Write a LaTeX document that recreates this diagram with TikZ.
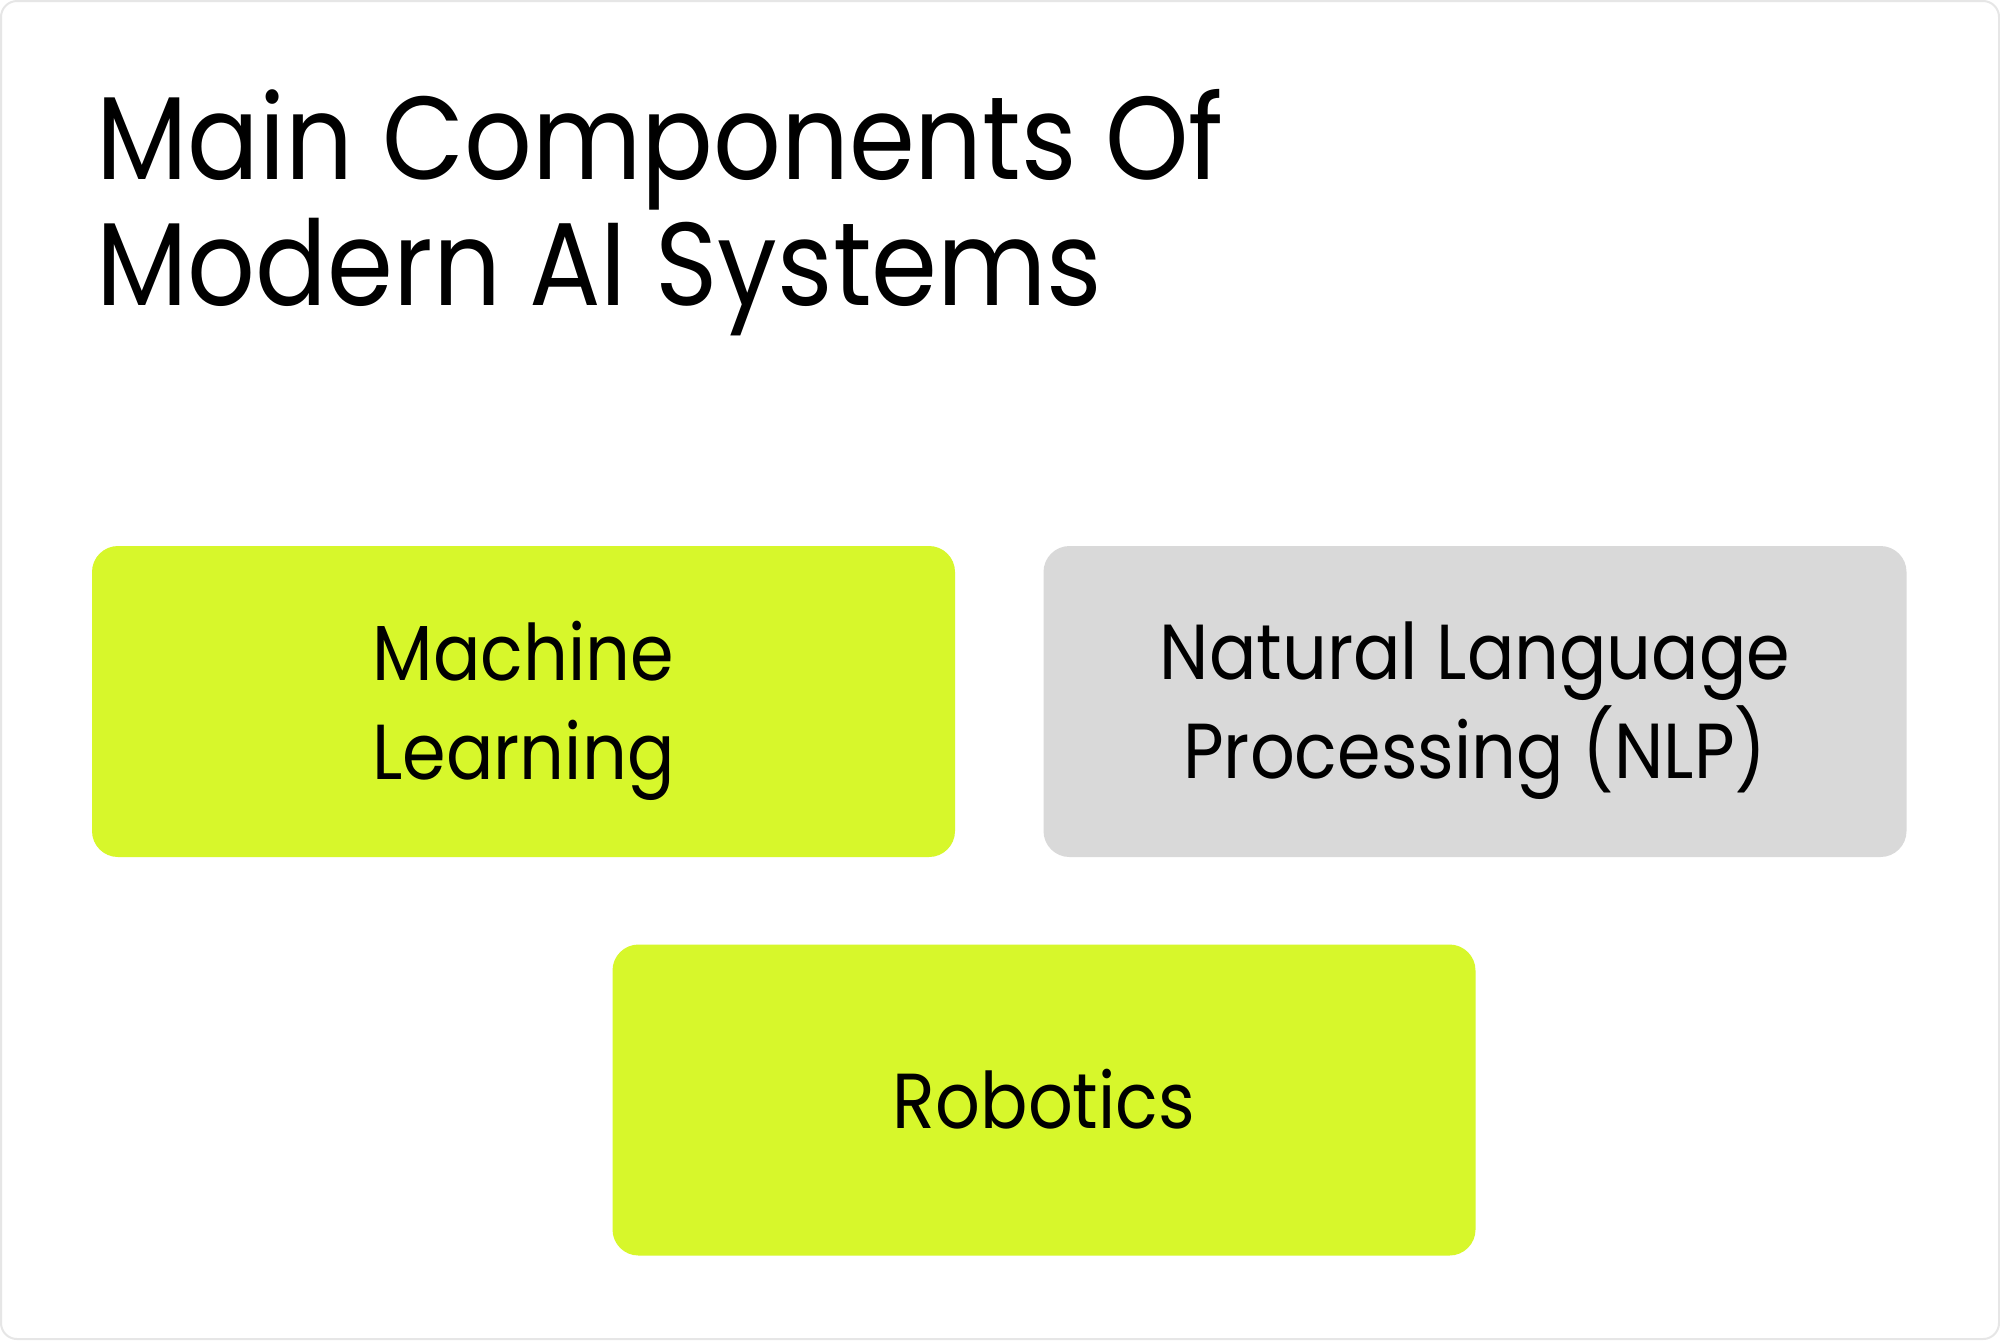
\documentclass[tikz,border=0pt]{standalone}
\usepackage{fontspec}
\setmainfont[FakeStretch=0.9]{Poppins}
\usetikzlibrary{positioning}
\definecolor{aiLime}{HTML}{D7F72B}
\definecolor{aiGrey}{HTML}{D9D9D9}
\definecolor{aiFrame}{HTML}{E6E6E6}
\begin{document}
\begin{tikzpicture}[x=0.5pt, y=-0.5pt,
  compbox/.style={rounded corners=13pt, inner sep=0pt, align=center,
    minimum width=431.5pt, minimum height=155.5pt, text depth=1pt,
    font=\fontsize{39}{49.5}\selectfont},
  titletext/.style={inner sep=0pt, anchor=base west, align=left,
    font=\fontsize{59}{63}\selectfont}]
% Canvas and outer frame
\def\pxw{2000}
\def\pxh{1340}
\useasboundingbox (0,0) rectangle (\pxw,\pxh);
\path[fill=white, draw=aiFrame, line width=1pt, rounded corners=8pt] (1,1) rectangle (1999,1339);
% Title (anchored at the baseline of its last line)
\node[titletext] (title) at (96,305) {Main Components Of\\Modern AI Systems};
% Component boxes
\node[compbox, fill=aiLime] (ml) at (523.5,701.5) {Machine\\Learning};
\node[compbox, fill=aiGrey] (nlp) at (1475,701.5) {Natural Language\\Processing (NLP)};
\node[compbox, fill=aiLime] (robo) at (1044,1100) {Robotics};
\end{tikzpicture}
\end{document}
